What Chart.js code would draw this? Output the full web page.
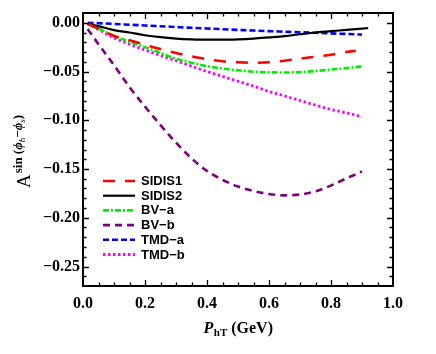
<!doctype html>
<html>
<head>
<meta charset="utf-8">
<title>Asymmetry vs PhT</title>
<script src="https://cdn.jsdelivr.net/npm/chart.js@4.4.1/dist/chart.umd.min.js"></script>
<style>
  html, body { margin: 0; padding: 0; background: #fff; }
  canvas { display: block; }
</style>
</head>
<body>
<canvas id="chart" width="436" height="354"></canvas>
<script>
// values
var xVals  = [0.015, 0.05, 0.1, 0.15, 0.2, 0.25, 0.3, 0.35, 0.4, 0.45, 0.5, 0.55, 0.6, 0.65, 0.7, 0.75, 0.8, 0.85, 0.88, 0.9, 0.92];
var sidis1 = [-0.001, -0.006, -0.0135, -0.018, -0.0225, -0.027, -0.031, -0.0345, -0.0375, -0.0395, -0.0405, -0.041, -0.0405, -0.039, -0.0368, -0.0348, -0.0328, -0.030, -0.0287, null, null];
var sidis2 = [-0.001, -0.0035, -0.0075, -0.010, -0.0128, -0.0148, -0.0162, -0.0170, -0.0174, -0.0174, -0.0170, -0.0162, -0.0150, -0.0137, -0.0118, -0.0100, -0.0086, -0.0074, -0.0066, -0.0060, -0.0055];
var bvA    = [-0.001, -0.006, -0.0135, -0.0195, -0.025, -0.031, -0.037, -0.041, -0.0445, -0.047, -0.0488, -0.0502, -0.0509, -0.051, -0.0506, -0.0495, -0.048, -0.0465, -0.0455, -0.0448, null];
var bvB    = [-0.0065, -0.022, -0.0435, -0.066, -0.086, -0.105, -0.123, -0.139, -0.152, -0.161, -0.168, -0.1725, -0.1757, -0.177, -0.1762, -0.1728, -0.167, -0.1595, -0.1555, -0.1525, null];
var tmdA   = [0, -0.0005, -0.0012, -0.002, -0.0028, -0.0036, -0.0044, -0.0052, -0.0059, -0.0066, -0.0073, -0.0080, -0.0086, -0.0092, -0.0098, -0.0103, -0.0109, -0.0115, -0.0119, -0.0122, null];
var tmdB   = [-0.001, -0.007, -0.0155, -0.022, -0.028, -0.0335, -0.039, -0.0445, -0.050, -0.055, -0.060, -0.065, -0.0705, -0.075, -0.0798, -0.0845, -0.089, -0.0925, -0.0948, -0.0965, null];

var seriesNames = ["SIDIS1", "SIDIS2", "BV\u2212a", "BV\u2212b", "TMD\u2212a", "TMD\u2212b"];
var xTickVals = [0, 0.2, 0.4, 0.6, 0.8, 1.0];
var yTickVals = [0, -0.05, -0.10, -0.15, -0.20, -0.25];

function pts(arr) {
    var out = [];
    for (var i = 0; i < xVals.length; i++) {
        if (arr[i] !== null) out.push({x: xVals[i], y: arr[i]});
    }
    return out;
}

var styles = [
    {color: "#ff0000", dash: [12, 10], width: 2.6},
    {color: "#000000", dash: [], width: 2.2},
    {color: "#00ee00", dash: [6, 2, 2, 2], width: 2.6},
    {color: "#7f007f", dash: [7, 5], width: 2.6},
    {color: "#0000ff", dash: [6, 3], width: 2.6},
    {color: "#ff00ff", dash: [2.5, 2.5], width: 2.8}
];
var allSeries = [sidis1, sidis2, bvA, bvB, tmdA, tmdB];

var datasets = [];
for (var k = 0; k < allSeries.length; k++) {
    datasets.push({
        label: seriesNames[k],
        data: pts(allSeries[k]),
        showLine: true,
        borderColor: styles[k].color,
        borderWidth: styles[k].width,
        borderDash: styles[k].dash,
        pointRadius: 0,
        cubicInterpolationMode: 'monotone',
        fill: false
    });
}

var SERIF = '"Liberation Serif", "DejaVu Serif", serif';
var SANS = '"Liberation Sans", Arial, sans-serif';

// frame, inward ticks, legend and axis titles
var decor = {
    id: 'decor',
    afterDraw: function(chart) {
        var ctx = chart.ctx, a = chart.chartArea;
        var xs = chart.scales.x, ys = chart.scales.y;
        ctx.save();
        ctx.strokeStyle = '#000';
        ctx.setLineDash([]);
        ctx.lineWidth = 1.3;
        ctx.beginPath();
        for (var i = 1; i < 20; i++) {
            var px = Math.round(xs.getPixelForValue(i * 0.05)) + 0.5;
            var len = (i % 4 === 0) ? 6 : 3.5;
            ctx.moveTo(px, a.bottom); ctx.lineTo(px, a.bottom - len);
            ctx.moveTo(px, a.top); ctx.lineTo(px, a.top + len);
        }
        for (var j = 0; j <= 26; j++) {
            var py = Math.round(ys.getPixelForValue(-j * 0.01)) + 0.5;
            var ln = (j % 5 === 0) ? 6 : 3.5;
            ctx.moveTo(a.left, py); ctx.lineTo(a.left + ln, py);
            ctx.moveTo(a.right, py); ctx.lineTo(a.right - ln, py);
        }
        ctx.stroke();
        ctx.lineWidth = 2;
        ctx.strokeRect(a.left, a.top, a.right - a.left, a.bottom - a.top);

        // legend
        var ly = 181, step = 14.7;
        for (var k = 0; k < datasets.length; k++) {
            var y = ly + k * step;
            ctx.strokeStyle = styles[k].color;
            ctx.lineWidth = styles[k].width;
            ctx.setLineDash(styles[k].dash);
            ctx.beginPath();
            ctx.moveTo(103, y); ctx.lineTo(135, y);
            ctx.stroke();
            ctx.setLineDash([]);
            ctx.fillStyle = '#000';
            ctx.font = 'bold 13px ' + SANS;
            ctx.textBaseline = 'middle';
            ctx.textAlign = 'left';
            ctx.fillText(seriesNames[k], 141, y + 0.5);
        }

        // x title: P_hT (GeV)
        ctx.fillStyle = '#000';
        ctx.textBaseline = 'alphabetic';
        ctx.textAlign = 'left';
        var f1 = 'italic bold 16px ' + SERIF, f2 = 'bold 11px ' + SERIF, f3 = 'bold 16px ' + SERIF;
        ctx.font = f1; var wP = ctx.measureText('P').width;
        ctx.font = f2; var wS = ctx.measureText('hT').width;
        ctx.font = f3; var wG = ctx.measureText(' (GeV)').width;
        var x0 = 238 - (wP + wS + wG) / 2, by = 333;
        ctx.font = f1; ctx.fillText('P', x0, by);
        ctx.font = f2; ctx.fillText('hT', x0 + wP + 0.5, by + 3);
        ctx.font = f3; ctx.fillText(' (GeV)', x0 + wP + wS + 0.5, by);

        // y title: A^{sin(phi_h - phi_s)}
        ctx.translate(30, 188);
        ctx.rotate(-Math.PI / 2);
        ctx.font = '19px ' + SERIF;
        ctx.fillText('A', 0, 0);
        var cx = ctx.measureText('A').width + 1;
        var parts = [
            ['bold 13px ' + SERIF, 'sin (', -8],
            ['italic bold 13px ' + SERIF, '\u03d5', -8],
            ['italic 9px ' + SERIF, 'h', -5],
            ['bold 13px ' + SERIF, '\u2212', -8],
            ['italic bold 13px ' + SERIF, '\u03d5', -8],
            ['italic 9px ' + SERIF, 's', -5],
            ['bold 13px ' + SERIF, ')', -8]
        ];
        for (var p = 0; p < parts.length; p++) {
            ctx.font = parts[p][0];
            ctx.fillText(parts[p][1], cx, parts[p][2]);
            cx += ctx.measureText(parts[p][1]).width;
        }
        ctx.restore();
    }
};

var ctx = document.getElementById("chart").getContext("2d");
window.myChart = new Chart(ctx, {
    type: 'scatter',
    data: { datasets: datasets },
    plugins: [decor],
    options: {
        responsive: false,
        animation: false,
        layout: { padding: { top: 13, right: 43, left: 0, bottom: 0 } },
        plugins: { legend: { display: false }, tooltip: { enabled: false } },
        scales: {
            x: {
                type: 'linear', min: 0, max: 1,
                grid: { display: false, drawTicks: false },
                border: { display: false },
                afterBuildTicks: function(s) { s.ticks = xTickVals.map(function(v) { return {value: v}; }); },
                afterFit: function(s) { s.height = 68; },
                ticks: {
                    padding: 8, color: '#000', maxRotation: 0,
                    font: { family: SERIF, size: 16, weight: 'bold' },
                    callback: function(v) { return v.toFixed(1); }
                }
            },
            y: {
                type: 'linear', min: -0.27, max: 0.01,
                grid: { display: false, drawTicks: false },
                border: { display: false },
                afterBuildTicks: function(s) { s.ticks = yTickVals.map(function(v) { return {value: v}; }); },
                afterFit: function(s) { s.width = 83; },
                ticks: {
                    padding: 3, color: '#000',
                    font: { family: SERIF, size: 16, weight: 'bold' },
                    callback: function(v) { return v.toFixed(2).replace('-', '\u2212'); }
                }
            }
        }
    }
});
</script>
</body>
</html>
